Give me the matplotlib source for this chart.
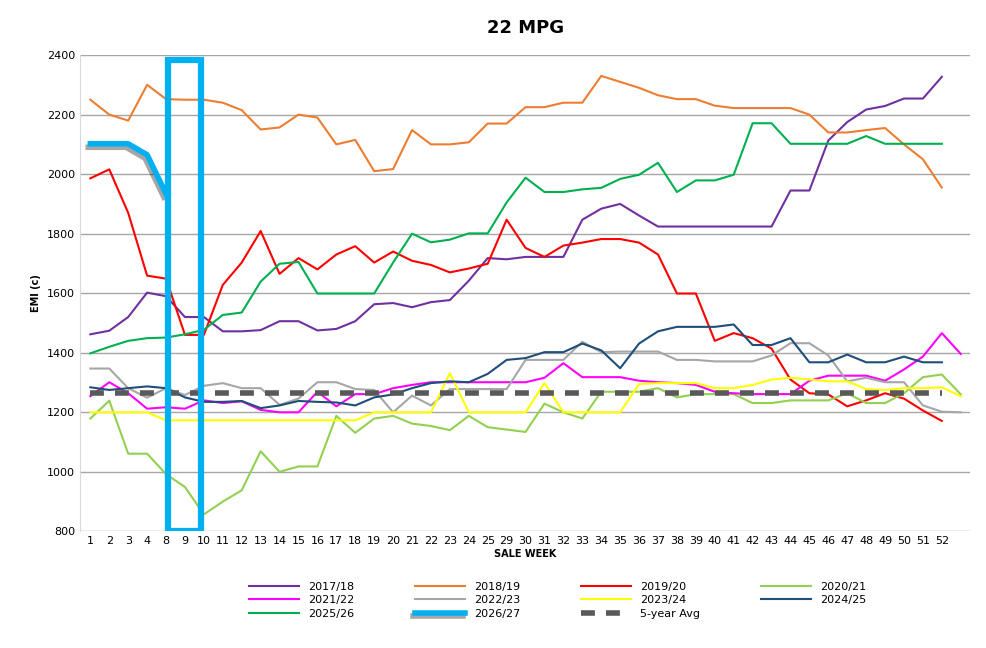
import matplotlib.pyplot as plt
import matplotlib.patheffects as pe
from matplotlib.patches import Rectangle

weeks = ["1", "2", "3", "4"] + [str(w) for w in range(8, 26)] + [str(w) for w in range(29, 53)] + [""]

s1718 = [1462, 1474, 1520, 1602, 1590, 1520, 1520, 1472, 1472, 1476, 1506, 1506, 1475, 1480, 1506, 1563,
         1567, 1553, 1570, 1577, 1642, 1718, 1714, 1722, 1722, 1722, 1847, 1884, 1900, 1861, 1824, 1824,
         1824, 1824, 1824, 1824, 1824, 1945, 1945, 2113, 2175, 2217, 2229, 2254, 2254, 2327]
s1819 = [2250, 2200, 2180, 2300, 2252, 2250, 2250, 2240, 2215, 2150, 2157, 2200, 2190, 2100, 2115, 2010,
         2017, 2148, 2100, 2100, 2107, 2170, 2170, 2225, 2225, 2240, 2240, 2330, 2310, 2290, 2265, 2252,
         2252, 2230, 2222, 2222, 2222, 2222, 2200, 2140, 2140, 2148, 2155, 2100, 2050, 1955]
s1920 = [1986, 2016, 1870, 1659, 1649, 1460, 1460, 1628, 1703, 1809, 1665, 1718, 1680, 1730, 1758, 1703,
         1740, 1709, 1695, 1670, 1683, 1699, 1847, 1752, 1722, 1760, 1770, 1782, 1782, 1770, 1730, 1599,
         1599, 1440, 1466, 1449, 1414, 1310, 1264, 1260, 1220, 1240, 1264, 1246, 1206, 1171]
s2021 = [1179, 1239, 1061, 1061, 992, 949, 857, 900, 938, 1069, 1000, 1018, 1018, 1188, 1131, 1179,
         1188, 1162, 1154, 1140, 1188, 1150, 1142, 1134, 1229, 1200, 1179, 1269, 1269, 1269, 1281, 1250,
         1261, 1261, 1261, 1231, 1231, 1240, 1240, 1240, 1264, 1231, 1231, 1264, 1318, 1327, 1260]
s2122 = [1254, 1301, 1264, 1212, 1217, 1212, 1240, 1231, 1237, 1208, 1200, 1200, 1269, 1220, 1261, 1261,
         1281, 1292, 1301, 1301, 1301, 1301, 1301, 1301, 1316, 1365, 1318, 1318, 1318, 1306, 1301, 1298,
         1292, 1269, 1264, 1261, 1261, 1261, 1306, 1323, 1323, 1323, 1306, 1344, 1387, 1466, 1396]
s2223 = [1347, 1347, 1281, 1249, 1281, 1258, 1289, 1298, 1281, 1281, 1225, 1246, 1301, 1301, 1278, 1275,
         1200, 1256, 1223, 1278, 1278, 1278, 1278, 1376, 1376, 1376, 1437, 1402, 1404, 1404, 1404, 1376,
         1376, 1371, 1371, 1371, 1391, 1432, 1432, 1391, 1304, 1316, 1301, 1301, 1223, 1202, 1200]
s2324 = [1200, 1200, 1200, 1200, 1173, 1173, 1173, 1173, 1173, 1173, 1173, 1173, 1173, 1173, 1173, 1200,
         1200, 1200, 1200, 1331, 1200, 1200, 1200, 1200, 1298, 1200, 1200, 1200, 1200, 1295, 1298, 1298,
         1298, 1281, 1281, 1292, 1310, 1316, 1310, 1304, 1304, 1278, 1275, 1281, 1281, 1284, 1254]
s2425 = [1284, 1275, 1281, 1287, 1281, 1250, 1235, 1235, 1238, 1214, 1223, 1238, 1235, 1233, 1223, 1250,
         1260, 1281, 1298, 1304, 1301, 1329, 1376, 1382, 1402, 1402, 1431, 1408, 1348, 1431, 1472, 1487,
         1487, 1487, 1495, 1426, 1426, 1449, 1368, 1368, 1394, 1368, 1368, 1387, 1368, 1368]
s2526 = [1398, 1420, 1440, 1449, 1451, 1462, 1477, 1527, 1535, 1639, 1699, 1705, 1599, 1599, 1599, 1599,
         1703, 1800, 1771, 1780, 1801, 1801, 1905, 1988, 1940, 1940, 1949, 1954, 1984, 1998, 2038, 1940,
         1979, 1979, 1998, 2171, 2171, 2102, 2102, 2102, 2102, 2128, 2102, 2102, 2102, 2102]
s2627 = [2102, 2102, 2102, 2065, 1934]
avg5 = [1266] * 46

series = [
    ("2017/18", s1718, "#7030A0"),
    ("2018/19", s1819, "#ED7D31"),
    ("2019/20", s1920, "#FF0000"),
    ("2020/21", s2021, "#92D050"),
    ("2021/22", s2122, "#FF00FF"),
    ("2022/23", s2223, "#A6A6A6"),
    ("2023/24", s2324, "#FFFF00"),
    ("2024/25", s2425, "#1F4E79"),
    ("2025/26", s2526, "#00B050"),
]

fig = plt.figure(figsize=(9.87, 6.48), dpi=100)
ax = fig.add_axes([0.081, 0.18, 0.902, 0.735])

handles = []
for label, vals, color in series:
    h, = ax.plot(range(len(vals)), vals, color=color, lw=1.5, label=label)
    handles.append(h)

# 2026/27 with a soft dark shadow like the Excel original
h, = ax.plot(range(len(s2627)), s2627, color="#00B0F0", lw=4, label="2026/27",
             path_effects=[pe.SimpleLineShadow(offset=(-1.5, -2.5), shadow_color="black", alpha=0.35),
                           pe.Normal()])
handles.append(h)
h, = ax.plot(range(len(avg5)), avg5, color="#595959", lw=4, ls=(0, (2.5, 2)), label="5-year Avg")
handles.append(h)

ax.add_patch(Rectangle((4.1, 800), 1.75, 1585, fill=False, edgecolor="#00B0F0", lw=4.5, zorder=5))

ax.set_xlim(-0.55, 46.5)
ax.set_ylim(800, 2400)
ax.set_yticks(range(800, 2401, 200))
ax.set_xticks(range(len(weeks)))
ax.set_xticklabels(weeks)
ax.tick_params(length=0, labelsize=8)
ax.grid(axis="y", color="#A6A6A6", lw=1)
ax.set_axisbelow(True)
for sp in ["top", "right", "bottom"]:
    ax.spines[sp].set_visible(False)
ax.spines["left"].set_color("#D9D9D9")
ax.set_title("22 MPG", fontsize=13, fontweight="bold", pad=16)
ax.set_xlabel("SALE WEEK", fontsize=7, fontweight="bold", labelpad=2)
ax.set_ylabel("EMI (c)", fontsize=7, fontweight="bold")

order = [0, 4, 8, 1, 5, 9, 2, 6, 10, 3, 7]
fig.legend([handles[i] for i in order], [handles[i].get_label() for i in order],
           ncol=4, loc="lower center", bbox_to_anchor=(0.565, 0.03), frameon=False,
           fontsize=8, handlelength=4.5, columnspacing=5.5, labelspacing=0.3)

fig.savefig("out.png")
